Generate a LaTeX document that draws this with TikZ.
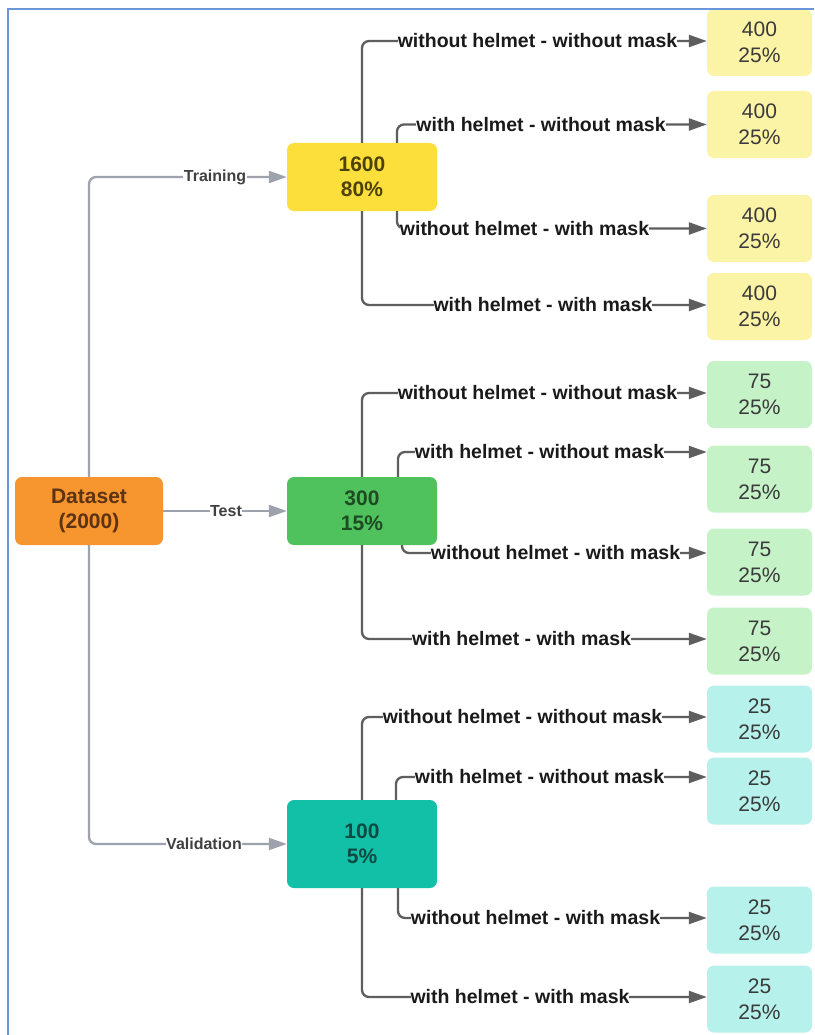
\documentclass[tikz,border=0pt]{standalone}
\usepackage{fontspec}
\setmainfont{Liberation Sans}
\usetikzlibrary{arrows.meta}
\definecolor{orangeM}{HTML}{F7952F}
\definecolor{orangeT}{HTML}{5C3313}
\definecolor{yellowM}{HTML}{FDDF3C}
\definecolor{yellowT}{HTML}{4D4208}
\definecolor{greenM}{HTML}{4FC15D}
\definecolor{greenT}{HTML}{1E4B22}
\definecolor{tealM}{HTML}{12BFA7}
\definecolor{tealT}{HTML}{0D4A41}
\definecolor{yellowL}{HTML}{FBF3A5}
\definecolor{greenL}{HTML}{C5F2C7}
\definecolor{tealL}{HTML}{B6F1EB}
\definecolor{leafT}{HTML}{3A3A3A}
\definecolor{feedC}{HTML}{9DA2AC}
\definecolor{branchC}{HTML}{5E5E5E}
\definecolor{lblT}{HTML}{1A1A1A}
\definecolor{flblT}{HTML}{404040}
\definecolor{borderC}{HTML}{6B97DA}
\begin{document}
\begin{tikzpicture}[x=1pt,y=-1pt,
  mainbox/.style={rounded corners=7pt, minimum width=150pt, minimum height=68pt, align=center, inner sep=0pt,
    font=\bfseries\fontsize{21}{25.5}\selectfont},
  leafbox/.style={rounded corners=7pt, minimum width=105pt, minimum height=67pt, align=center, inner sep=0pt,
    text=leafT, font=\fontsize{21}{26}\selectfont},
  feed/.style={draw=feedC, line width=2.3pt, rounded corners=7pt, -{Triangle[length=18pt,width=12pt]}},
  branch/.style={draw=branchC, line width=2.3pt, rounded corners=7pt, -{Triangle[length=18pt,width=12pt]}},
  lbl/.style={fill=white, inner xsep=0pt, inner ysep=1pt, text=lblT, font=\bfseries\fontsize{19.5}{22}\selectfont},
  flbl/.style={fill=white, inner xsep=0.5pt, inner ysep=1pt, text=flblT, font=\bfseries\fontsize{16}{18}\selectfont}
]
\fill[white] (0,0) rectangle (814,1035);
\useasboundingbox (0,0) rectangle (814,1035);

% main boxes
\node[mainbox, fill=orangeM, text=orangeT, minimum width=148pt] (ds) at (89,511) {Dataset\\(2000)};
\node[mainbox, fill=yellowM, text=yellowT] (m1) at (362,177) {1600\\80\%};
\node[mainbox, fill=greenM, text=greenT] (m2) at (362,511) {300\\15\%};
\node[mainbox, fill=tealM, text=tealT, minimum height=88pt] (m3) at (362,844) {100\\5\%};

% leaf boxes
\node[leafbox, fill=yellowL] (y1) at (759.5,42.5) {400\\25\%};
\node[leafbox, fill=yellowL] (y2) at (759.5,124.5) {400\\25\%};
\node[leafbox, fill=yellowL] (y3) at (759.5,228.5) {400\\25\%};
\node[leafbox, fill=yellowL] (y4) at (759.5,306.5) {400\\25\%};
\node[leafbox, fill=greenL] (g1) at (759.5,394.5) {75\\25\%};
\node[leafbox, fill=greenL] (g2) at (759.5,479) {75\\25\%};
\node[leafbox, fill=greenL] (g3) at (759.5,562) {75\\25\%};
\node[leafbox, fill=greenL] (g4) at (759.5,641) {75\\25\%};
\node[leafbox, fill=tealL] (t1) at (759.5,719) {25\\25\%};
\node[leafbox, fill=tealL] (t2) at (759.5,791) {25\\25\%};
\node[leafbox, fill=tealL] (t3) at (759.5,920) {25\\25\%};
\node[leafbox, fill=tealL] (t4) at (759.5,999) {25\\25\%};

% feeds from dataset
\draw[feed] (ds.north) |- (m1.west);
\node[flbl] (lt) at (215,177) {Training};
\draw[feed] (ds.east) -- (m2.west);
\node[flbl] (lte) at (226,511) {Test};
\draw[feed] (ds.south) |- (m3.west);
\node[flbl] (lv) at (204,844) {Validation};

% training branches
\draw[branch] (m1.north) |- ([yshift=1.5pt]y1.west);
\node[lbl] at (537.5,41) {without helmet - without mask};
\draw[branch] ([xshift=35pt]m1.north) |- (y2.west);
\node[lbl] at (541,124.5) {with helmet - without mask};
\draw[branch] ([xshift=35pt]m1.south) |- (y3.west);
\node[lbl] at (524.5,228.5) {without helmet - with mask};
\draw[branch] (m1.south) |- ([yshift=1.5pt]y4.west);
\node[lbl] at (543,305) {with helmet - with mask};

% test branches
\draw[branch] (m2.north) |- ([yshift=1.5pt]g1.west);
\node[lbl] at (537.5,393) {without helmet - without mask};
\draw[branch] ([xshift=36pt]m2.north) |- ([yshift=27pt]g2.west);
\node[lbl] at (539.5,452) {with helmet - without mask};
\draw[branch] ([xshift=40pt]m2.south) |- ([yshift=9pt]g3.west);
\node[lbl] at (555.5,553) {without helmet - with mask};
\draw[branch] (m2.south) |- ([yshift=2pt]g4.west);
\node[lbl] at (521.5,639) {with helmet - with mask};

% validation branches
\draw[branch] (m3.north) |- ([yshift=2pt]t1.west);
\node[lbl] at (522.5,717) {without helmet - without mask};
\draw[branch] ([xshift=34pt]m3.north) |- ([yshift=14pt]t2.west);
\node[lbl] at (539.5,777) {with helmet - without mask};
\draw[branch] ([xshift=36pt]m3.south) |- ([yshift=2pt]t3.west);
\node[lbl] at (535.5,918) {without helmet - with mask};
\draw[branch] (m3.south) |- ([yshift=2pt]t4.west);
\node[lbl] at (520,997) {with helmet - with mask};

% frame lines
\draw[borderC, line width=2pt] (814,9) -- (8,9) -- (8,1035);
\end{tikzpicture}
\end{document}
